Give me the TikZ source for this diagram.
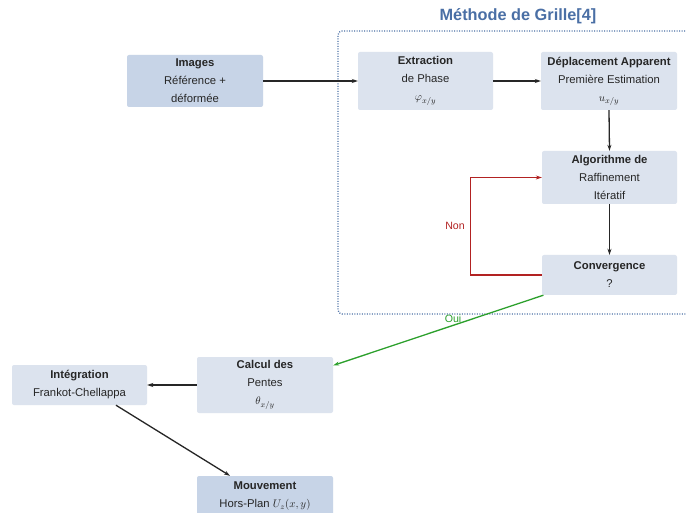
\documentclass[tikz,border=0pt]{standalone}
\usepackage{fontspec}
\setmainfont{Liberation Sans}
\usetikzlibrary{arrows.meta,calc}
\definecolor{boxA}{HTML}{C7D4E7}
\definecolor{boxB}{HTML}{DCE3EE}
\definecolor{titleblue}{HTML}{4A6FA5}
\definecolor{redline}{HTML}{B22222}
\definecolor{greenline}{HTML}{2CA02C}
\tikzset{
  blk/.style={rounded corners=2pt, inner sep=0pt, align=center,
    font=\fontsize{11.3}{18}\selectfont, text=black!85},
  dark/.style={blk, fill=boxA},
  light/.style={blk, fill=boxB},
  arr/.style={-{Stealth[length=6pt,width=4pt]}, line width=1.3pt, black!85},
}
\begin{document}
\begin{tikzpicture}[x=1pt,y=-1pt]
\useasboundingbox (0,0) rectangle (686,513);
\fill[white] (0,0) rectangle (686,513);
% dotted frame
\draw[titleblue, dash pattern=on 1pt off 1.5pt, line width=1.3pt, rounded corners=4pt]
  (700,31) -- (338,31) -- (338,314) -- (700,314);
\node[titleblue, font=\bfseries\fontsize{16.3}{18}\selectfont] (title) at (518,16) {Méthode de Grille[4]};
% nodes
\node[dark, minimum width=136pt, minimum height=52pt] (img) at (195,81)
  {\textbf{Images}\\Référence +\\déformée};
\node[light, minimum width=135pt, minimum height=58pt] (ext) at (425.5,81)
  {\textbf{Extraction}\\de Phase\\$\varphi_{x/y}$};
\node[light, minimum width=136pt, minimum height=58pt] (dep) at (609,81)
  {\textbf{Déplacement Apparent}\\Première Estimation\\$u_{x/y}$};
\node[light, minimum width=135pt, minimum height=53pt] (alg) at (609.5,177.5)
  {\textbf{Algorithme de}\\Raffinement\\Itératif};
\node[light, minimum width=135pt, minimum height=40pt] (conv) at (609.5,275)
  {\textbf{Convergence}\\?};
\node[light, minimum width=136pt, minimum height=56pt] (calc) at (265,385)
  {\textbf{Calcul des}\\Pentes\\$\theta_{x/y}$};
\node[light, minimum width=135pt, minimum height=40pt] (integ) at (79.5,385)
  {\textbf{Intégration}\\Frankot-Chellappa};
\node[dark, minimum width=136pt, minimum height=40pt] (mouv) at (265,496)
  {\textbf{Mouvement}\\Hors-Plan $U_z(x,y)$};
% connectors
\draw[arr] (img.east) -- (ext.west);
\draw[arr] (ext.east) -- (dep.west);
\draw[arr] (dep.south) -- (alg.north);
\draw[arr] (alg.south) -- (conv.north);
\draw[-{Stealth[length=6pt,width=4pt]}, line width=1.3pt, redline]
  (conv.west) -- ++(-71,0) coordinate (rc) |- (alg.west);
\node[redline, font=\fontsize{10.6}{12}\selectfont] (non) at (455,226) {Non};
\draw[-{Stealth[length=6pt,width=4pt]}, line width=1.3pt, greenline]
  (conv.197) -- (calc.16.4);
\node[greenline, font=\fontsize{10.6}{12}\selectfont] (oui) at (453,319) {Oui};
\draw[arr] (calc.west) -- (integ.east);
\draw[arr] (integ.-29) -- (mouv.150);
\end{tikzpicture}
\end{document}
